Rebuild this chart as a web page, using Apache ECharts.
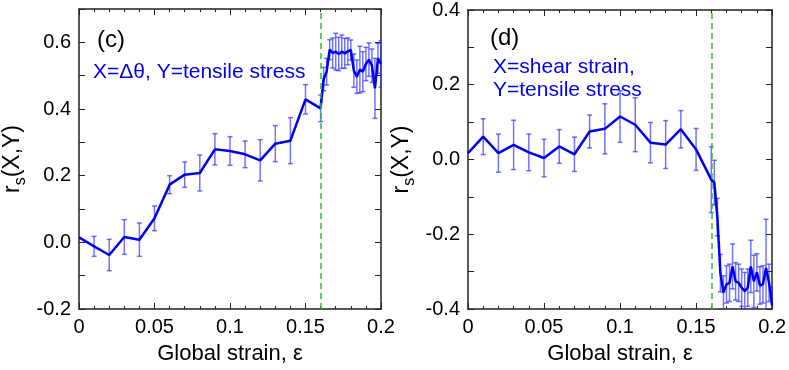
<!DOCTYPE html>
<html>
<head>
<meta charset="utf-8">
<script src="https://cdn.jsdelivr.net/npm/echarts@6/dist/echarts.min.js"></script>
<style>
html, body { margin: 0; background: #fff; }
#chart { width: 789px; height: 370px; }
</style>
</head>
<body>
<div id="chart"></div>
<script>
// global strain (same sampling in both panels)
var strain = [0, 0.01, 0.02, 0.03, 0.04, 0.05, 0.06, 0.07, 0.08, 0.09, 0.10, 0.11, 0.12, 0.13, 0.14, 0.15, 0.16,
  0.162, 0.164, 0.166, 0.168, 0.170, 0.172, 0.174, 0.176, 0.178, 0.180,
  0.182, 0.184, 0.186, 0.188, 0.190, 0.192, 0.194, 0.196, 0.198, 0.200];

// (c) X = delta theta, Y = tensile stress
var rsC = [0.015, -0.012, -0.038, 0.016, 0.008, 0.072, 0.173, 0.203, 0.208, 0.279, 0.274, 0.264, 0.246, 0.296, 0.305, 0.429, 0.402,
  0.49, 0.512, 0.578, 0.568, 0.572, 0.565, 0.572, 0.567, 0.573, 0.577,
  0.515, 0.497, 0.518, 0.512, 0.535, 0.548, 0.53, 0.462, 0.552, 0.535];
var errC = [0, 0.03, 0.047, 0.052, 0.05, 0.037, 0.027, 0.038, 0.054, 0.047, 0.043, 0.04, 0.062, 0.054, 0.069, 0.044, 0.04,
  0.035, 0.04, 0.03, 0.045, 0.055, 0.05, 0.05, 0.045, 0.04, 0.03,
  0.05, 0.05, 0.07, 0.06, 0.05, 0.05, 0.05, 0.09, 0.045, 0.07];

// (d) X = shear strain, Y = tensile stress
var rsD = [0.017, 0.061, 0.017, 0.039, 0.019, 0.004, 0.035, 0.014, 0.075, 0.082, 0.115, 0.093, 0.045, 0.04, 0.081, 0.027, -0.054,
  -0.062, -0.154, -0.304, -0.356, -0.334, -0.33, -0.286, -0.326, -0.33, -0.343,
  -0.352, -0.343, -0.286, -0.326, -0.302, -0.337, -0.334, -0.29, -0.33, -0.391];
var errD = [0, 0.048, 0.051, 0.066, 0.049, 0.05, 0.045, 0.046, 0.044, 0.067, 0.069, 0.072, 0.054, 0.064, 0.05, 0.056, 0.088,
  0.06, 0.05, 0.05, 0.045, 0.05, 0.05, 0.06, 0.05, 0.05, 0.05,
  0.05, 0.05, 0.07, 0.07, 0.05, 0.05, 0.05, 0.13, 0.05, 0.05];

var onsetStrain = 0.16;

var font = 'Liberation Sans, Arial, sans-serif';
var axisColor = '#222';

var myChart = echarts.init(document.getElementById('chart'));

function yLabel(v) {
  var k = Math.round(v * 10);
  return k % 2 === 0 ? (k / 10).toFixed(1) : '';
}

function xAxisOf(grid, bottom) {
  return {
    type: 'value', gridIndex: grid, min: 0, max: 0.2, interval: 0.05,
    position: bottom ? 'bottom' : 'top',
    name: bottom ? 'Global strain, ε' : '',
    nameLocation: 'middle', nameGap: 34,
    nameTextStyle: { fontFamily: font, fontSize: 22, color: '#000' },
    axisLine: { onZero: false, lineStyle: { color: axisColor, width: 1.5 } },
    axisTick: { inside: true, length: 6, lineStyle: { color: axisColor } },
    minorTick: { show: true, splitNumber: 5, length: 3, lineStyle: { color: axisColor } },
    splitLine: { show: false },
    axisLabel: { show: bottom, fontFamily: font, fontSize: 20, color: '#000', margin: 8 }
  };
}

function yAxisOf(grid, left, min, max) {
  return {
    type: 'value', gridIndex: grid, min: min, max: max, interval: 0.1,
    position: left ? 'left' : 'right',
    name: left ? '{r|r}{s|s}{r|(X,Y)}' : '',
    nameLocation: 'middle', nameGap: 50, nameRotate: 90,
    nameTextStyle: {
      fontFamily: font, fontSize: 23, color: '#000',
      rich: {
        r: { fontFamily: font, fontSize: 23, color: '#000', verticalAlign: 'bottom', padding: [0, 0, 5, 0] },
        s: { fontFamily: font, fontSize: 16, color: '#000', verticalAlign: 'bottom' }
      }
    },
    axisLine: { onZero: false, lineStyle: { color: axisColor, width: 1.5 } },
    axisTick: { inside: true, length: 6, lineStyle: { color: axisColor } },
    splitLine: { show: false },
    axisLabel: { show: left, fontFamily: font, fontSize: 20, color: '#000', margin: 8, formatter: yLabel }
  };
}

function lineSeries(ax, vals) {
  return {
    type: 'line', xAxisIndex: ax, yAxisIndex: ax, z: 3,
    data: strain.map(function (x, i) { return [x, vals[i]]; }),
    showSymbol: false,
    lineStyle: { color: '#0000ee', width: 2.5 },
    markLine: {
      silent: true, symbol: 'none', label: { show: false },
      lineStyle: { color: '#33bb33', type: [6, 4], width: 1.5 },
      data: [{ xAxis: onsetStrain }]
    }
  };
}

function errSeries(ax, vals, errs) {
  var d = [];
  strain.forEach(function (x, i) {
    if (errs[i] > 0) d.push([x, vals[i] - errs[i], vals[i] + errs[i]]);
  });
  return {
    type: 'custom', xAxisIndex: ax, yAxisIndex: ax, z: 2, clip: true,
    data: d,
    renderItem: function (params, api) {
      var lo = api.coord([api.value(0), api.value(1)]);
      var hi = api.coord([api.value(0), api.value(2)]);
      var w = 2.5;
      var st = { stroke: 'rgba(40,40,255,0.65)', lineWidth: 1.5 };
      return {
        type: 'group',
        children: [
          { type: 'line', shape: { x1: lo[0], y1: lo[1], x2: hi[0], y2: hi[1] }, style: st },
          { type: 'line', shape: { x1: lo[0] - w, y1: lo[1], x2: lo[0] + w, y2: lo[1] }, style: st },
          { type: 'line', shape: { x1: hi[0] - w, y1: hi[1], x2: hi[0] + w, y2: hi[1] }, style: st }
        ]
      };
    }
  };
}

option = {
  animation: false,
  backgroundColor: '#fff',
  title: [
    { text: '(c)', left: 92, top: 23, textStyle: { fontFamily: font, fontSize: 24, fontWeight: 'normal', color: '#000' } },
    { text: 'X=Δθ, Y=tensile stress', left: 88, top: 57, textStyle: { fontFamily: font, fontSize: 21, fontWeight: 'normal', color: '#0000ee' } },
    { text: '(d)', left: 485, top: 21, textStyle: { fontFamily: font, fontSize: 24, fontWeight: 'normal', color: '#000' } },
    { text: 'X=shear strain,\nY=tensile stress', left: 488, top: 51, textStyle: { fontFamily: font, fontSize: 21, lineHeight: 23, fontWeight: 'normal', color: '#0000ee' } }
  ],
  grid: [
    { left: 76, right: 408, top: 9, bottom: 57 },
    { left: 468, right: 16, top: 9, bottom: 57 }
  ],
  xAxis: [xAxisOf(0, true), xAxisOf(1, true), xAxisOf(0, false), xAxisOf(1, false)],
  yAxis: [yAxisOf(0, true, -0.2, 0.7), yAxisOf(1, true, -0.4, 0.4), yAxisOf(0, false, -0.2, 0.7), yAxisOf(1, false, -0.4, 0.4)],
  series: [
    errSeries(0, rsC, errC),
    lineSeries(0, rsC),
    errSeries(1, rsD, errD),
    lineSeries(1, rsD)
  ]
};

myChart.setOption(option, true);
</script>
</body>
</html>
